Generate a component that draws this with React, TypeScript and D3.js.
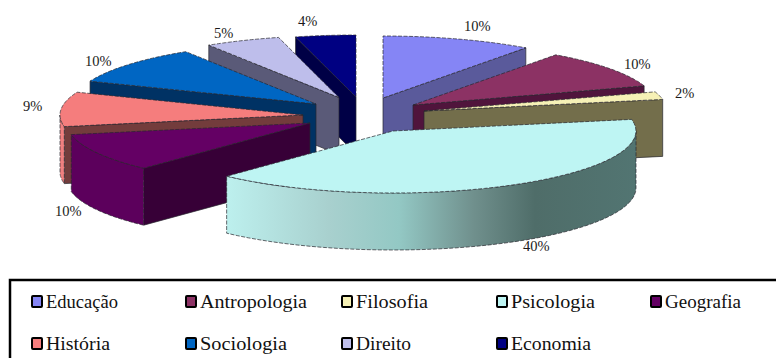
import React from "react";
import * as d3 from "d3";

// Distribution of works by field
const categories = ["Educação", "Antropologia", "Filosofia", "Psicologia", "Geografia", "História", "Sociologia", "Direito", "Economia"];
const shares = [10, 10, 2, 40, 10, 9, 10, 5, 4];

const topColors = ["#8585f5", "#8c3264", "#f6f1b6", "#bef5f3", "#640064", "#f57d7d", "#0066c3", "#bebeeb", "#000082"];
const wallColors = ["#5a5a9b", "#50143c", "#736e4b", "#5f8f8d", "#370037", "#733c3c", "#003264", "#5a5a78", "#000046"];
const rimColors = ["#5a5a9b", "#50143c", "#736e4b", "url(#rimShade)", "#5c005c", "#f08080", "#003264", "#5a5a78", "#000046"];

// Each slice is pulled away from the shared pie centre by its own offset (px)
const pieCentre = [370, 110];
const explodeOffsets = [[13, -12], [43, -5], [54, 1], [23, 21], [-60, 13], [-67, 5], [-54, -6], [-31, -12.5], [-14, -13]];
const labelAnchors = [[464, 31], [624, 69], [675, 98], [523, 251], [55, 216], [23, 111], [85, 66], [214, 38], [298, 26]];

// Legend layout
const legendColumns = [31, 185, 341, 496, 650];
const legendRows = [295, 337];
const legendPerRow = 5;
const legendTextWidths = [72, 107, 72, 84, 76, 64, 87, 55, 80];

const rimStops = [
  { at: 0, color: "#bdf0ee" },
  { at: 0.25, color: "#a8d0ce" },
  { at: 0.42, color: "#93c8c4" },
  { at: 0.6, color: "#70908d" },
  { at: 0.75, color: "#4f6d69" },
  { at: 1, color: "#527572" },
];

const RX = 243;
const RY = 62;
const DEPTH = 57;
const EDGE = "#26262e";

const pie = d3.pie<number>().sort(null).startAngle(0).endAngle(2 * Math.PI);
const line = d3.line<[number, number]>();

type Pt = [number, number];

export default function App() {
  const slices = pie(shares).map((s, i) => {
    const ox = pieCentre[0] + explodeOffsets[i][0];
    const oy = pieCentre[1] + explodeOffsets[i][1];
    const at = (a: number): Pt => [ox + RX * Math.sin(a), oy - RY * Math.cos(a)];
    const sweep = (a0: number, a1: number): Pt[] =>
      d3.range(0, 41).map((k) => at(a0 + ((a1 - a0) * k) / 40));
    return { i, ox, oy, at, sweep, a0: s.startAngle, a1: s.endAngle };
  });

  const drawOrder = d3.sort(slices, (s) => s.oy);
  const down = (p: Pt): Pt => [p[0], p[1] + DEPTH];

  return (
    <svg width={776} height={358} style={{ position: "absolute", left: 0, top: 0, background: "#fff" }}>
      <defs>
        <linearGradient id="rimShade" gradientUnits="userSpaceOnUse" x1={226} x2={638} y1={0} y2={0}>
          {rimStops.map((s) => (
            <stop key={s.at} offset={s.at} stopColor={s.color} />
          ))}
        </linearGradient>
      </defs>

      {drawOrder.map((s) => {
        const apex: Pt = [s.ox, s.oy];
        const walls: React.ReactNode[] = [];
        // Radial cut faces that turn towards the viewer
        for (const [name, angle] of [["a", s.a0], ["b", s.a1]] as [string, number][]) {
          const facing = name === "a" ? Math.sin(angle) < -1e-6 : Math.sin(angle) > 1e-6;
          if (!facing) continue;
          const p = s.at(angle);
          walls.push(
            <path
              key={name}
              d={line([apex, p, down(p), down(apex)]) + "Z"}
              fill={wallColors[s.i]}
              stroke={EDGE}
              strokeWidth={0.7}
            />
          );
        }
        // Outer rim, only along the near half of the ellipse
        const r0 = Math.max(s.a0, Math.PI / 2);
        const r1 = Math.min(s.a1, (3 * Math.PI) / 2);
        if (r1 > r0) {
          const edge = s.sweep(r0, r1);
          walls.push(
            <path
              key="rim"
              d={line([...edge, ...edge.slice().reverse().map(down)]) + "Z"}
              fill={rimColors[s.i]}
              stroke={EDGE}
              strokeWidth={0.7}
              strokeDasharray="4 1.5"
            />
          );
        }
        return (
          <g key={categories[s.i]}>
            {walls}
            <path
              d={line([apex, ...s.sweep(s.a0, s.a1)]) + "Z"}
              fill={topColors[s.i]}
              stroke={EDGE}
              strokeWidth={0.7}
              strokeDasharray="4 1.5"
            />
          </g>
        );
      })}

      <g fontFamily="'Liberation Serif', serif" fontSize={14.5} fill="#1a1a1a">
        {shares.map((v, i) => (
          <text key={categories[i]} x={labelAnchors[i][0]} y={labelAnchors[i][1]}>
            {`${v}%`}
          </text>
        ))}
      </g>

      {/* Legend panel: its right and bottom sides run off the canvas */}
      <rect x={10} y={280} width={790} height={100} fill="none" stroke="#000" strokeWidth={2.5} />
      <g fontFamily="'Liberation Serif', serif" fontSize={19.5} fill="#111">
        {categories.map((c, i) => {
          const x = legendColumns[i % legendPerRow];
          const y = legendRows[Math.floor(i / legendPerRow)];
          return (
            <g key={c}>
              <rect x={x + 1} y={y + 1} width={10} height={11} rx={1} fill={topColors[i]} stroke="#000" strokeWidth={2} />
              <text x={x + 15} y={y + 13} textLength={legendTextWidths[i]} lengthAdjust="spacingAndGlyphs">
                {c}
              </text>
            </g>
          );
        })}
      </g>
    </svg>
  );
}
